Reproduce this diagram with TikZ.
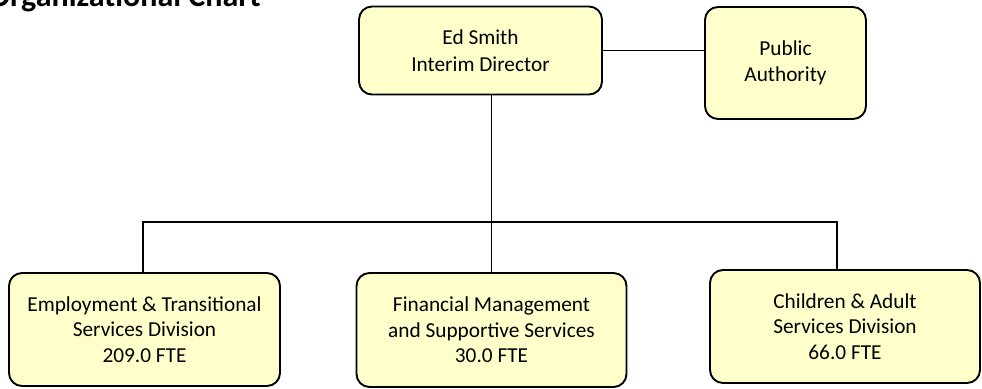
\documentclass[tikz,border=0pt]{standalone}
\usepackage{fontspec}
\setmainfont{Carlito}
\definecolor{boxfill}{HTML}{FFFFCC}
\begin{document}
\begin{tikzpicture}[x=1pt,y=-1pt,
  orgbox/.style={draw=black, line width=1.9pt, fill=boxfill, rounded corners=13pt,
    align=center, inner sep=0pt,
    font=\fontsize{21.3}{25.5}\selectfont},
  link/.style={draw=black, line width=1.9pt}]
\useasboundingbox (0,0) rectangle (982,388);
\node[anchor=base east, font=\fontsize{32}{36}\selectfont\bfseries, inner sep=0pt] (title) at (261,6) {Organizational Chart};
\node[orgbox, font=\fontsize{21.3}{27}\selectfont, minimum width=243pt, minimum height=88pt] (dir) at (480.5,50.5) {Ed Smith\\Interim Director};
\node[orgbox, font=\fontsize{21.3}{26}\selectfont, minimum width=161pt, minimum height=112pt] (pa) at (785.5,63) {Public\\Authority};
\node[orgbox, minimum width=271pt, minimum height=113pt] (b1) at (144.5,329.5) {Employment \& Transitional\\Services Division\\209.0 FTE};
\node[orgbox, minimum width=270pt, minimum height=114pt] (b2) at (491.5,330) {Financial Management\\and Supportive Services\\30.0 FTE};
\node[orgbox, minimum width=270pt, minimum height=113pt] (b3) at (845,326.5) {Children \& Adult\\Services Division\\66.0 FTE};
\coordinate (busL) at (143,222);
\coordinate (busR) at (837,222);
\draw[link] (dir.east) -- (dir.east -| pa.west);
\draw[link] (dir.south -| b2.north) -- (b2.north);
\draw[link] (b1.north -| busL) -- (busL) -- (busR) -- (b3.north -| busR);
\end{tikzpicture}
\end{document}
